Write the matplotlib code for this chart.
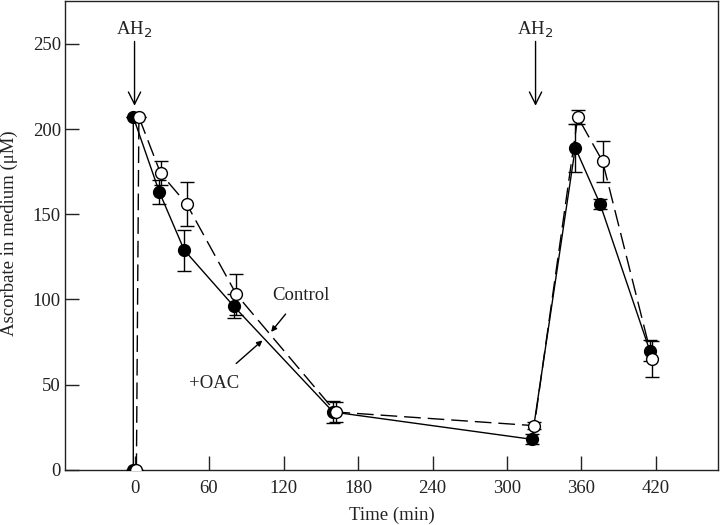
import numpy as np
import matplotlib.pyplot as plt

plt.rcParams['font.family'] = ['Liberation Serif', 'DejaVu Serif']

# +OAC (filled circles, solid line)
oac_t = [-1, -1, 20, 40, 80, 160, 320, 355, 375, 415]
oac_y = [0, 207, 163, 129, 96, 34, 18, 189, 156, 70]
oac_err = [0, 0, 7, 12, 7, 6.5, 3, 14, 3, 6]

# Control (open circles, dashed line)
ctl_t = [1.5, 3.5, 21, 42, 82, 162, 322, 357, 377, 417]
ctl_y = [0, 207, 174, 156, 103, 34, 26, 207, 181, 65]
ctl_err = [0, 0, 7, 13, 12, 6, 2, 4, 12, 10.5]

# ascorbate additions
ah2_times = [0, 323]

txt = '#222222'
fs = 13.5

fig = plt.figure(figsize=(7.2, 5.25), dpi=100)
ax = fig.add_axes([0.0903, 0.1048, 0.907, 0.893])

ax.errorbar(oac_t, oac_y, yerr=oac_err, fmt='o', ls='-', color='black', lw=1.0,
            ms=8.5, mfc='black', mec='black', capsize=5, elinewidth=1.0, capthick=1.0, zorder=3)
ax.errorbar(ctl_t, ctl_y, yerr=ctl_err, fmt='o', ls=(0, (12, 5)), color='black', lw=1.0,
            ms=8.5, mfc='white', mec='black', mew=1.0, capsize=5, elinewidth=1.0, capthick=1.0, zorder=4)

for t in ah2_times:
    ax.annotate('', xy=(t, 212), xytext=(t, 253),
                arrowprops=dict(arrowstyle='->', lw=1.0, color='black', mutation_scale=22))
    ax.text(t, 252.5, 'AH$_2$', ha='center', va='bottom', fontsize=fs, color=txt)

ax.annotate('Control', xy=(110, 81), xytext=(134, 102.5), ha='center', va='center',
            fontsize=fs, color=txt,
            arrowprops=dict(arrowstyle='-|>', lw=1.0, color='black', shrinkA=7, shrinkB=0,
                            mutation_scale=8))
ax.annotate('+OAC', xy=(103, 76), xytext=(64, 51), ha='center', va='center',
            fontsize=fs, color=txt,
            arrowprops=dict(arrowstyle='-|>', lw=1.0, color='black', shrinkA=9, shrinkB=0,
                            mutation_scale=8))

ax.set_xlim(-56, 470)
ax.set_ylim(0, 275)
ax.set_xticks(np.arange(0, 421, 60))
ax.set_yticks(np.arange(0, 251, 50))
ax.tick_params(direction='in', length=10, width=1.0, labelsize=fs, colors=txt)
ax.tick_params(axis='x', pad=7)
ax.tick_params(axis='y', pad=3)
for s in ax.spines.values():
    s.set_linewidth(1.0)
    s.set_color('#222222')

ax.set_xlabel('Time (min)', fontsize=fs, color=txt, labelpad=7)
ax.set_ylabel('Ascorbate in medium (\u03bcM)', fontsize=fs, color=txt)
ax.yaxis.set_label_coords(-0.072, 0.505)

fig.savefig('out.png', dpi=100)
